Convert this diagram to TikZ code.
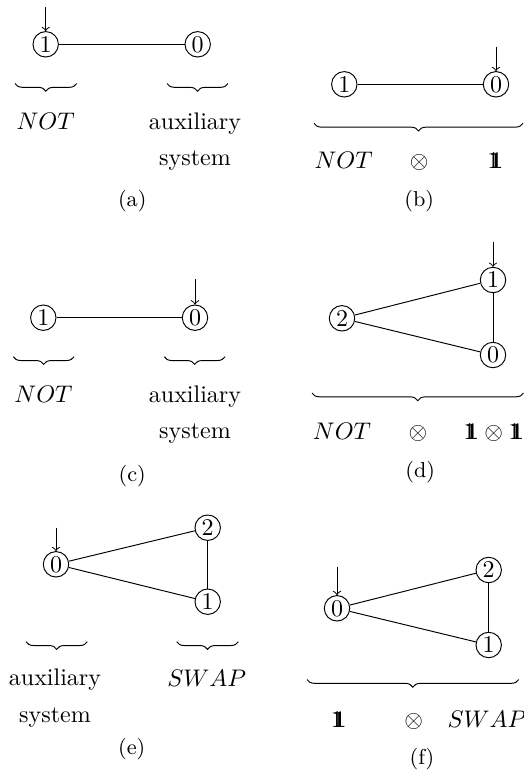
\documentclass[tikz,border=0pt]{standalone}
\usetikzlibrary{decorations.pathreplacing}
\newcommand{\onebb}{\mathrm{1}\mkern-7.6mu\mathbf{1}}
\begin{document}
\begin{tikzpicture}[x=0.41667pt,y=-0.41667pt,
  vtx/.style={circle,draw,minimum size=10.6pt,inner sep=0pt},
  lbl/.style={anchor=base,inner sep=0pt},
  subcap/.style={anchor=base,inner sep=0pt,font=\small},
  brc/.style={decorate,decoration={brace,mirror,amplitude=3.2pt}}]
\useasboundingbox (0,0) rectangle (524,770);

% (a)
\node[vtx] (a1) at (45.7,44.3) {1};
\node[vtx] (a0) at (197.7,44.3) {0};
\draw (a1) -- (a0);
\coordinate (aa) at (45.7,7);
\draw[->] (aa) -- (a1);
\draw[brc] (15,83.5) -- (76.7,83.5);
\draw[brc] (167,83.5) -- (228,83.5);
\node[lbl] (at1) at (45.7,129.3) {$NOT$};
\node[lbl] (at2) at (195,129.3) {auxiliary};
\node[lbl] (at3) at (195,165) {system};
\node[subcap] (acap) at (132.3,206) {(a)};

% (b)
\node[vtx] (b1) at (344.3,84.3) {1};
\node[vtx] (b0) at (496,84.3) {0};
\draw (b1) -- (b0);
\coordinate (ba) at (496,46.7);
\draw[->] (ba) -- (b0);
\draw[brc] (314,123.3) -- (523,123.3);
\node[lbl] (bt1) at (343.7,168) {$NOT$};
\node[lbl] (bt2) at (419.3,168) {$\otimes$};
\node[lbl] (bt3) at (495.3,168) {$\onebb$};
\node[subcap] (bcap) at (419.3,206) {(b)};

% (c)
\node[vtx] (c1) at (43.3,317.7) {1};
\node[vtx] (c0) at (195,317.7) {0};
\draw (c1) -- (c0);
\coordinate (ca) at (195,279);
\draw[->] (ca) -- (c0);
\draw[brc] (13.3,356.7) -- (74,356.7);
\draw[brc] (164.3,356.7) -- (225,356.7);
\node[lbl] (ct1) at (43.5,402.5) {$NOT$};
\node[lbl] (ct2) at (195,402.5) {auxiliary};
\node[lbl] (ct3) at (195,438) {system};
\node[subcap] (ccap) at (132.3,481) {(c)};

% (d)
\node[vtx] (d1) at (493,280) {1};
\node[vtx] (d2) at (342,318.3) {2};
\node[vtx] (d0) at (493,355) {0};
\draw (d2) -- (d1);
\draw (d2) -- (d0);
\draw (d1) -- (d0);
\coordinate (da) at (493,241.7);
\draw[->] (da) -- (d1);
\draw[brc] (312,393) -- (523.5,393);
\node[lbl] (dt1) at (342,439.5) {$NOT$};
\node[lbl] (dt2) at (418,439.5) {$\otimes$};
\node[lbl] (dt3) at (493.7,439.5) {$\onebb\otimes\onebb$};
\node[subcap] (dcap) at (420.3,477.7) {(d)};

% (e)
\node[vtx] (e0) at (56,564.3) {0};
\node[vtx] (e2) at (207.7,527.7) {2};
\node[vtx] (e1) at (207.7,601.7) {1};
\draw (e0) -- (e2);
\draw (e0) -- (e1);
\draw (e2) -- (e1);
\coordinate (ea) at (56,527.7);
\draw[->] (ea) -- (e0);
\draw[brc] (26,641.7) -- (87.3,641.7);
\draw[brc] (176.7,641.7) -- (238.3,641.7);
\node[lbl] (et1) at (55,685.6) {auxiliary};
\node[lbl] (et2) at (55,722) {system};
\node[lbl] (et3) at (206.7,686) {$SWAP$};
\node[subcap] (ecap) at (131.7,754.3) {(e)};

% (f)
\node[vtx] (f0) at (337,608.3) {0};
\node[vtx] (f2) at (488.7,570) {2};
\node[vtx] (f1) at (488.7,645) {1};
\draw (f0) -- (f2);
\draw (f0) -- (f1);
\draw (f2) -- (f1);
\coordinate (fa) at (337,566.7);
\draw[->] (fa) -- (f0);
\draw[brc] (307,679.5) -- (518.7,679.5);
\node[lbl] (ft1) at (338.7,727) {$\onebb$};
\node[lbl] (ft2) at (413.7,727) {$\otimes$};
\node[lbl] (ft3) at (487,727) {$SWAP$};
\node[subcap] (fcap) at (422,764.3) {(f)};
\end{tikzpicture}
\end{document}
